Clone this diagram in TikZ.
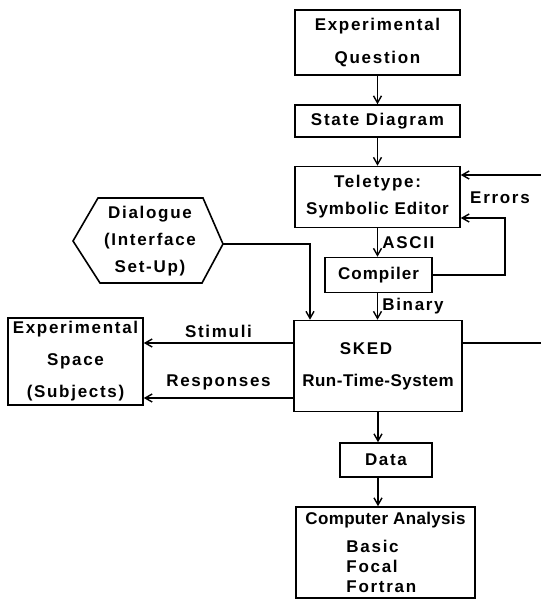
\documentclass[tikz,border=0pt]{standalone}
\usepackage{fontspec}
\setmainfont{Liberation Sans}[LetterSpace=10]
\usetikzlibrary{arrows.meta,calc}
\newcommand{\tightls}[1]{\addfontfeature{LetterSpace=#1}}
\begin{document}
\begin{tikzpicture}[x=1pt,y=-1pt,
  line width=1.6pt,
  every node/.style={font=\fontsize{17}{33}\selectfont\bfseries, inner sep=0pt},
  box/.style={draw, rectangle, align=center},
  arr/.style={-{Straight Barb[length=7pt,width=8pt,line width=1.4pt]}},
  lbl/.style={font=\fontsize{17}{20}\selectfont\bfseries}]
\useasboundingbox (0,0) rectangle (541,608);

\node[box, minimum width=165, minimum height=65, text depth=4pt] (eq) at (377.5,42.5) {Experimental\\Question};
\node[box, minimum width=165, minimum height=32] (sd) at (377.5,121) {State Diagram};
\node[box, minimum width=165, minimum height=61, font=\fontsize{17}{27}\selectfont\bfseries] (tt) at (377.5,197) {Teletype:\\\tightls{6}Symbolic Editor};
\node[box, minimum width=107, minimum height=35] (comp) at (378.5,275) {\tightls{6}Compiler};
\node[box, minimum width=168, minimum height=91, font=\fontsize{17}{34}\selectfont\bfseries] (sked) at (378,366) {SKED\hspace*{24pt}\\[-2pt]\tightls{3}Run-Time-System};
\node[box, minimum width=135, minimum height=87, font=\fontsize{17}{32}\selectfont\bfseries] (es) at (75.5,361.5) {Experimental\\Space\\(Subjects)};
\node[box, minimum width=92, minimum height=34] (data) at (386,460) {Data};
\node[box, minimum width=179, minimum height=91, align=left, font=\fontsize{17}{20}\selectfont\bfseries] (ca) at (385.5,552.5)
  {{\tightls{2}Computer Analysis}\\[8pt]\hspace*{41pt}Basic\\\hspace*{41pt}Focal\\\hspace*{41pt}Fortran};

% hexagon
\draw (73,241) -- (98,198) -- (203,198) -- (223,244) -- (202,283) -- (100,283) -- cycle;
\node[align=center, font=\fontsize{17}{27}\selectfont\bfseries] (dia) at (150,241) {Dialogue\\(Interface\\Set-Up)};
\coordinate (hexR) at (223,244);

% vertical flow
\draw[arr] (eq.south) -- (sd.north);
\draw[arr] (sd.south) -- (tt.north);
\draw[arr] (tt.south) -- (tt.south |- comp.north) node[lbl, midway, right=4pt] {ASCII};
\draw[arr] (comp.south -| tt.south) -- (sked.north -| tt.south) node[lbl, midway, right=4pt] {Binary};
\draw[arr] (sked.south) -- (sked.south |- data.north);
\draw[arr] (sked.south |- data.south) -- (sked.south |- ca.north);

% errors loop
\coordinate (eloop) at (505,218);
\draw[arr] (comp.east) -| (eloop) -- (tt.east |- eloop);
\node[lbl] (err) at (500,198) {Errors};

% right edge lines
\coordinate (r1) at (541,175);
\coordinate (r2) at (541,343);
\draw[arr] (r1) -- (tt.east |- r1);
\draw (sked.east |- r2) -- (r2);

% dialogue to SKED
\coordinate (dturn) at (310,244);
\draw[arr] (hexR) -- (dturn) -- (dturn |- sked.north);

% stimuli / responses
\coordinate (stim) at (0,343);
\coordinate (resp) at (0,398);
\draw[arr] (sked.west |- stim) -- (es.east |- stim) node[lbl, midway, above=5pt] {Stimuli};
\draw[arr] (sked.west |- resp) -- (es.east |- resp) node[lbl, midway, above=7pt] {Responses};
\end{tikzpicture}
\end{document}
